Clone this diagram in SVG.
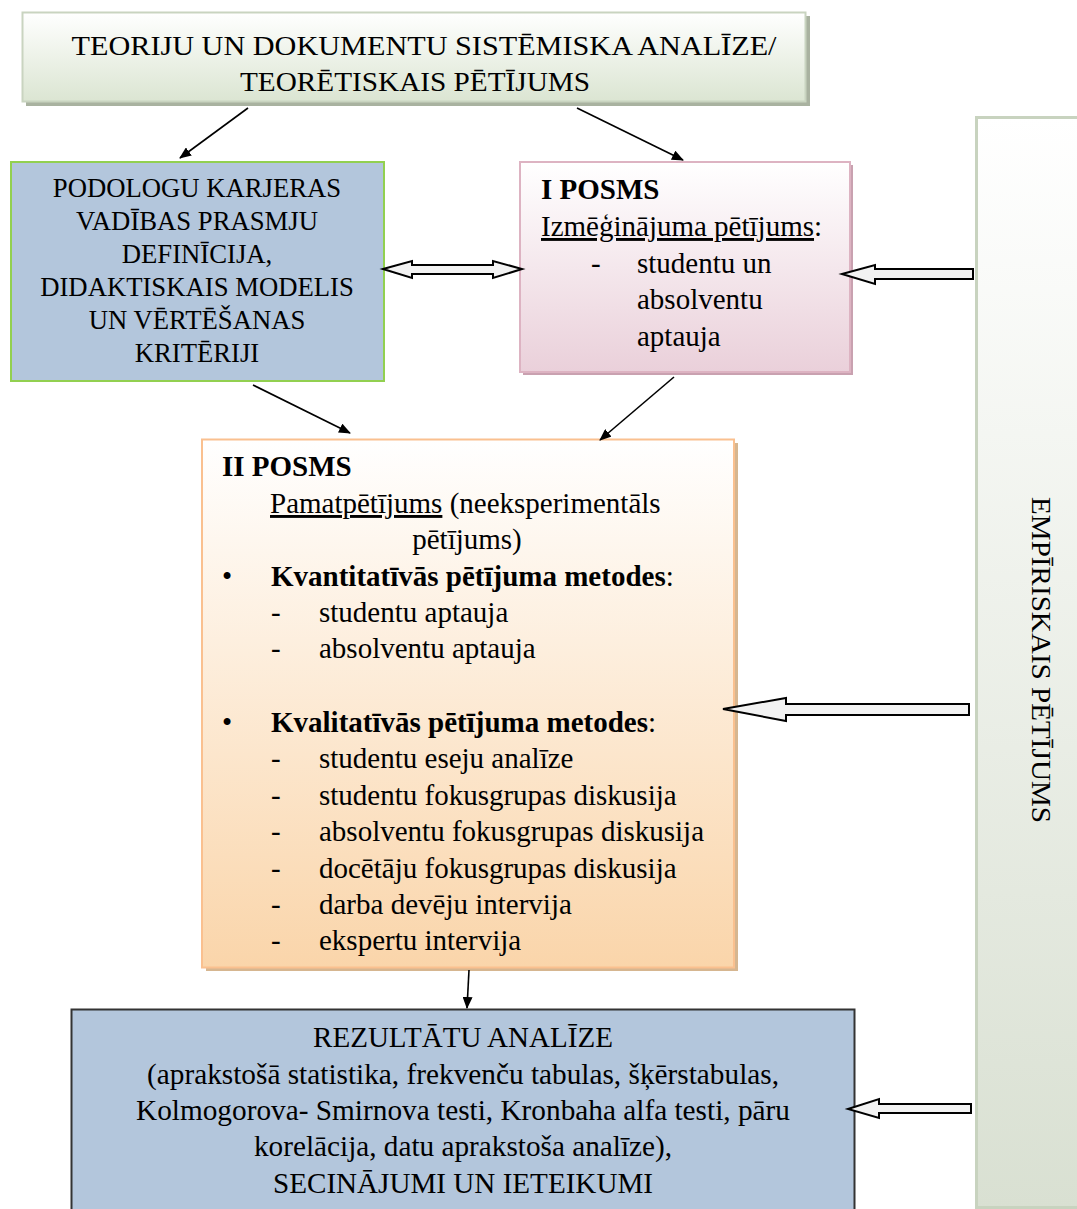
<svg xmlns="http://www.w3.org/2000/svg" width="1077" height="1209" viewBox="0 0 1077 1209">
  <style>
    text { font-family: "Liberation Serif", "Times New Roman", serif; fill: #000; }
    .t27 { font-size: 27px; }
    .t26 { font-size: 26.7px; }
    .t29 { font-size: 29px; }
    .b { font-weight: bold; }
    .u { text-decoration: underline; }
    .mid { text-anchor: middle; }
    .line { stroke: #000; stroke-width: 1.6; fill: none; marker-end: url(#tip); }
    .block { fill: #f2f2f2; stroke: #000; stroke-width: 2; stroke-linejoin: miter; }
  </style>
  <defs>
    <marker id="tip" viewBox="0 0 12 10" refX="11" refY="5" markerWidth="12" markerHeight="10" markerUnits="userSpaceOnUse" orient="auto">
      <path d="M0,0 L12,5 L0,10 Z" fill="#000"/>
    </marker>
    <linearGradient id="gGreen" x1="0" y1="0" x2="0" y2="1">
      <stop offset="0" stop-color="#ffffff"/>
      <stop offset="1" stop-color="#dbe5d2"/>
    </linearGradient>
    <linearGradient id="gPink" x1="0" y1="0" x2="0" y2="1">
      <stop offset="0" stop-color="#ffffff"/>
      <stop offset="1" stop-color="#ead0da"/>
    </linearGradient>
    <linearGradient id="gOrange" x1="0" y1="0" x2="0" y2="1">
      <stop offset="0" stop-color="#ffffff"/>
      <stop offset="1" stop-color="#fad5aa"/>
    </linearGradient>
    <linearGradient id="gSide" x1="0" y1="0" x2="0" y2="1">
      <stop offset="0" stop-color="#ffffff"/>
      <stop offset="1" stop-color="#d9e0d2"/>
    </linearGradient>
  </defs>

  <!-- side band: empirical research -->
  <g id="empirical">
    <rect x="976.5" y="117.5" width="110" height="1090" fill="url(#gSide)" stroke="#c8d3bf" stroke-width="3"/>
    <text class="t27" transform="translate(1032,660) rotate(90)" text-anchor="middle" textLength="326" lengthAdjust="spacingAndGlyphs">EMPĪRISKAIS PĒTĪJUMS</text>
  </g>

  <!-- theoretical research -->
  <g id="theory">
    <rect x="26" y="16" width="784" height="90" fill="#a9b2a0"/>
    <rect x="22.5" y="12.5" width="783" height="89" fill="url(#gGreen)" stroke="#c9d4c0" stroke-width="2"/>
    <text class="t27 mid" x="424" y="55" textLength="705" lengthAdjust="spacingAndGlyphs">TEORIJU UN DOKUMENTU SISTĒMISKA ANALĪZE/</text>
    <text class="t27 mid" x="415" y="91" textLength="350" lengthAdjust="spacingAndGlyphs">TEORĒTISKAIS PĒTĪJUMS</text>
  </g>

  <!-- definition and didactic model -->
  <g id="model">
    <rect x="11" y="162" width="373" height="219" fill="#b3c6dc" stroke="#92d050" stroke-width="2"/>
    <text class="t26 mid" x="197" y="197">PODOLOGU KARJERAS</text>
    <text class="t26 mid" x="197" y="230">VADĪBAS PRASMJU</text>
    <text class="t26 mid" x="197" y="263">DEFINĪCIJA,</text>
    <text class="t26 mid" x="197" y="296">DIDAKTISKAIS MODELIS</text>
    <text class="t26 mid" x="197" y="329">UN VĒRTĒŠANAS</text>
    <text class="t26 mid" x="197" y="362">KRITĒRIJI</text>
  </g>

  <!-- stage I -->
  <g id="stage1">
    <rect x="523" y="165" width="330" height="210" fill="#c9a1b0"/>
    <rect x="520" y="162" width="330" height="210" fill="url(#gPink)" stroke="#ddb3c2" stroke-width="2"/>
    <text class="t29 b" x="541" y="199">I POSMS</text>
    <text class="t29" x="541" y="236"><tspan class="u">Izmēģinājuma pētījums</tspan>:</text>
    <text class="t29" x="591" y="273">-</text>
    <text class="t29" x="637" y="273">studentu un</text>
    <text class="t29" x="637" y="309">absolventu</text>
    <text class="t29" x="637" y="346">aptauja</text>
  </g>

  <!-- stage II -->
  <g id="stage2">
    <rect x="206" y="443" width="532" height="528" fill="#d6b690"/>
    <rect x="202" y="439.5" width="532" height="528" fill="url(#gOrange)" stroke="#fac08f" stroke-width="2"/>
    <text class="t29 b" x="222" y="476">II POSMS</text>
    <text class="t29" x="270" y="513"><tspan class="u">Pamatpētījums</tspan> (neeksperimentāls</text>
    <text class="t29 mid" x="467" y="549">pētījums)</text>
    <text class="t29" x="222" y="586">•</text>
    <text class="t29" x="271" y="586"><tspan class="b">Kvantitatīvās pētījuma metodes</tspan>:</text>
    <text class="t29" x="271" y="622">-</text>
    <text class="t29" x="319" y="622">studentu aptauja</text>
    <text class="t29" x="271" y="658">-</text>
    <text class="t29" x="319" y="658">absolventu aptauja</text>
    <text class="t29" x="222" y="732">•</text>
    <text class="t29" x="271" y="732"><tspan class="b">Kvalitatīvās pētījuma metodes</tspan>:</text>
    <text class="t29" x="271" y="768">-</text>
    <text class="t29" x="319" y="768">studentu eseju analīze</text>
    <text class="t29" x="271" y="805">-</text>
    <text class="t29" x="319" y="805">studentu fokusgrupas diskusija</text>
    <text class="t29" x="271" y="841">-</text>
    <text class="t29" x="319" y="841">absolventu fokusgrupas diskusija</text>
    <text class="t29" x="271" y="878">-</text>
    <text class="t29" x="319" y="878">docētāju fokusgrupas diskusija</text>
    <text class="t29" x="271" y="914">-</text>
    <text class="t29" x="319" y="914">darba devēju intervija</text>
    <text class="t29" x="271" y="950">-</text>
    <text class="t29" x="319" y="950">ekspertu intervija</text>
  </g>

  <!-- results analysis -->
  <g id="results">
    <rect x="71.5" y="1009.5" width="783" height="210" fill="#b3c6dc" stroke="#333333" stroke-width="2"/>
    <text class="t29 mid" x="463" y="1047" textLength="300" lengthAdjust="spacingAndGlyphs">REZULTĀTU ANALĪZE</text>
    <text class="t29 mid" x="463" y="1084" textLength="632" lengthAdjust="spacingAndGlyphs">(aprakstošā statistika, frekvenču tabulas, šķērstabulas,</text>
    <text class="t29 mid" x="463" y="1120" textLength="654" lengthAdjust="spacingAndGlyphs">Kolmogorova- Smirnova testi, Kronbaha alfa testi, pāru</text>
    <text class="t29 mid" x="463" y="1156" textLength="418" lengthAdjust="spacingAndGlyphs">korelācija, datu aprakstoša analīze),</text>
    <text class="t29 mid" x="463" y="1193" textLength="380" lengthAdjust="spacingAndGlyphs">SECINĀJUMI UN IETEIKUMI</text>
  </g>

  <!-- connectors -->
  <g id="connectors">
    <line class="line" x1="248" y1="108" x2="180" y2="158"/>
    <line class="line" x1="577" y1="108" x2="683" y2="160"/>
    <line class="line" x1="253" y1="385" x2="350" y2="433"/>
    <line class="line" x1="674" y1="377" x2="600" y2="440"/>
    <line class="line" x1="469" y1="970" x2="467" y2="1008"/>
    <!-- two-way block arrow between model and stage I -->
    <path class="block" d="M383,269 L412,261 L412,265 L493,265 L493,261 L522,269 L493,278 L493,274 L412,274 L412,278 Z"/>
    <!-- block arrows from the empirical band -->
    <path class="block" d="M842,274 L875,265 L875,269 L973,269 L973,279 L875,279 L875,284 Z"/>
    <path class="block" d="M723,709 L786,698 L786,704 L969,704 L969,715 L786,715 L786,721 Z"/>
    <path class="block" d="M848,1109 L879,1099 L879,1104 L971,1104 L971,1113 L879,1113 L879,1118 Z"/>
  </g>
</svg>
